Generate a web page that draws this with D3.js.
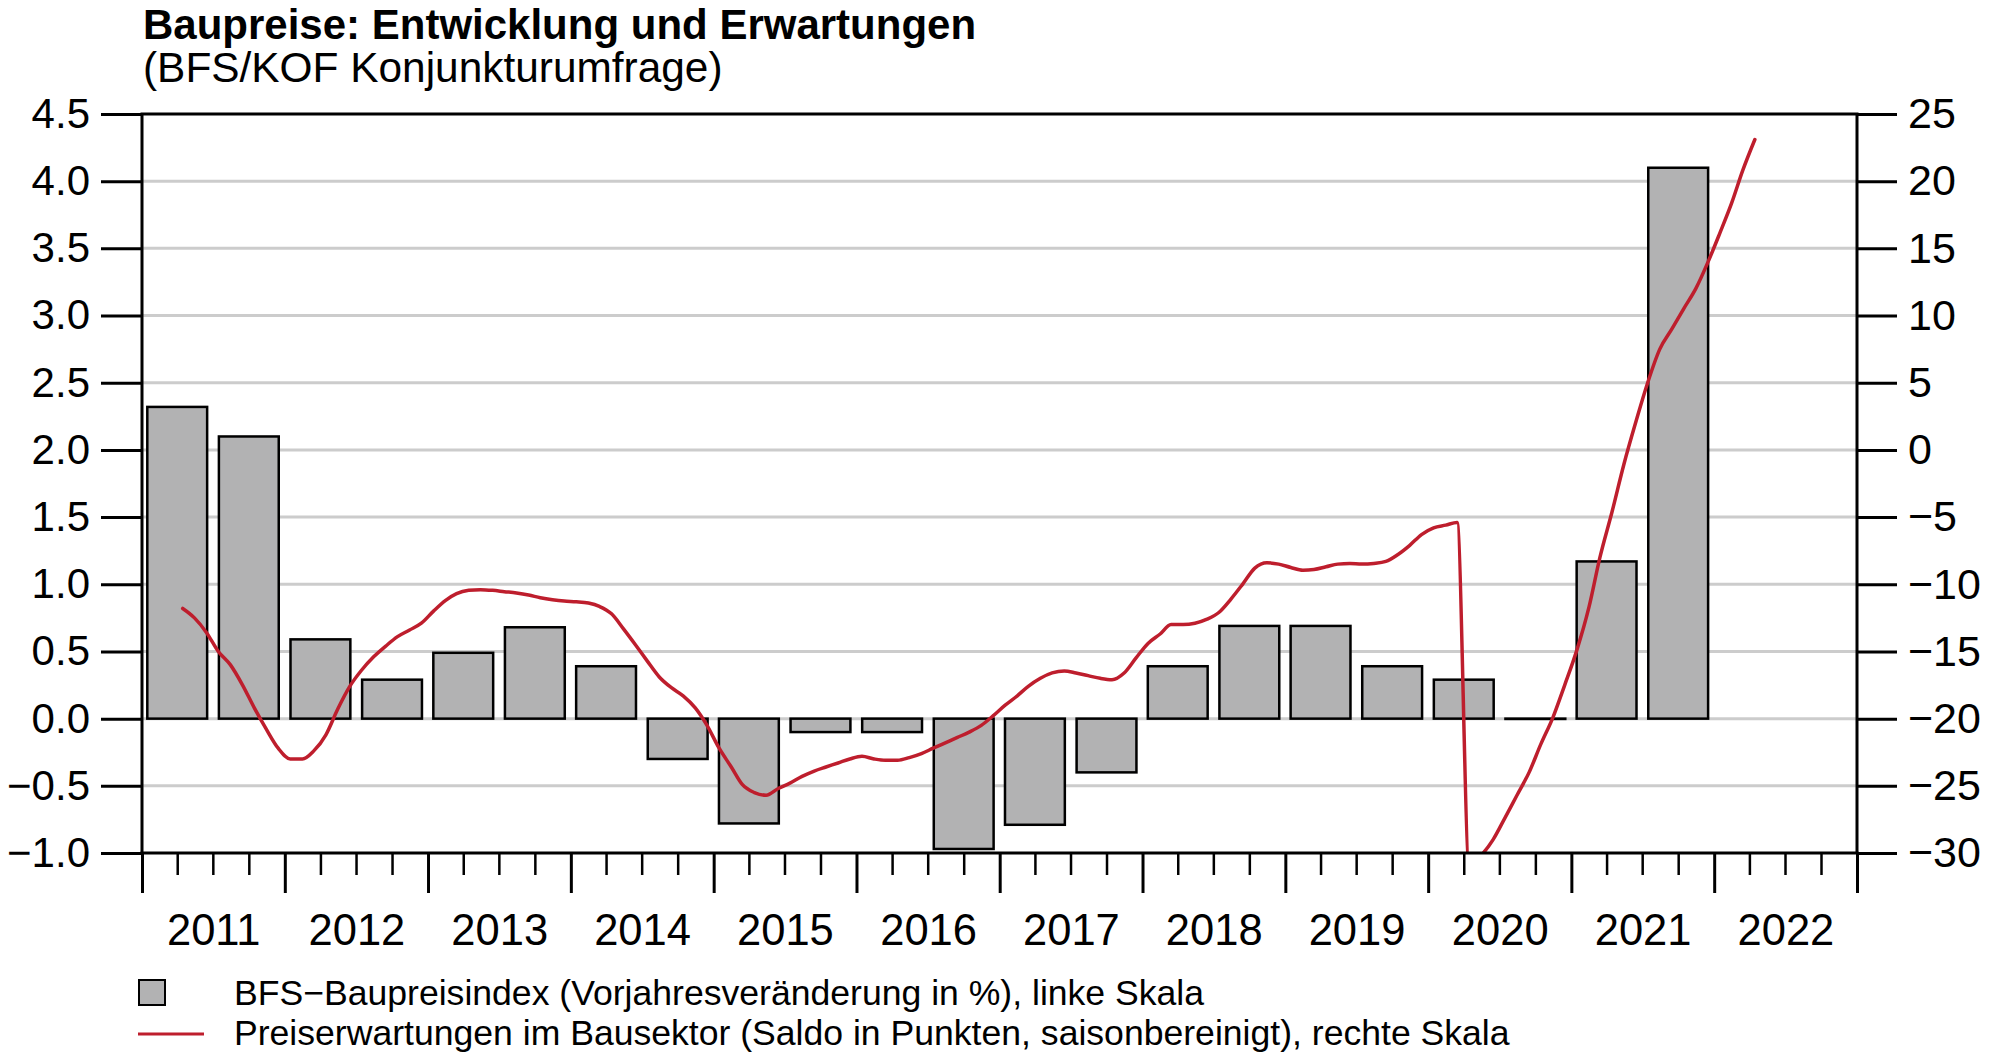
<!DOCTYPE html>
<html>
<head>
<meta charset="utf-8">
<script src="https://cdn.jsdelivr.net/npm/d3@7/dist/d3.min.js"></script>
<style>
  html, body { margin: 0; padding: 0; background: #ffffff; }
  svg { display: block; }
  text { font-family: "Liberation Sans", Arial, Helvetica, sans-serif; fill: #000; }
</style>
</head>
<body>
<svg id="chart" width="2000" height="1060"></svg>
<script>
// ---------- Data ----------
const titleText = "Baupreise: Entwicklung und Erwartungen";
const subtitleText = "(BFS/KOF Konjunkturumfrage)";

// Half-year periods (bars): year and half
const barYears  = [2011,2011,2012,2012,2013,2013,2014,2014,2015,2015,2016,2016,2017,2017,2018,2018,2019,2019,2020,2020,2021,2021];
const barHalves = [1,2,1,2,1,2,1,2,1,2,1,2,1,2,1,2,1,2,1,2,1,2];
const barValues = [2.32, 2.10, 0.59, 0.29, 0.49, 0.68, 0.39, -0.30, -0.78, -0.10, -0.10, -0.97, -0.79, -0.40, 0.39, 0.69, 0.69, 0.39, 0.29, 0.00, 1.17, 4.10];

// Monthly line series, starting April 2011
const lineStartYear = 2011, lineStartMonth = 4;
const lineValues = [
  -11.8,-12.5,-13.6,-15.0,-16.0,-17.5,-19.2,-20.8,-22.2,-23.0,-23.0,-22.4,
  -21.2,-19.3,-17.6,-16.4,-15.4,-14.6,-13.9,-13.4,-12.9,-12.0,-11.2,-10.7,
  -10.45,-10.4,-10.45,-10.55,-10.65,-10.8,-11.0,-11.15,-11.25,-11.3,-11.4,-11.65,
  -12.2,-13.3,-14.5,-15.7,-16.9,-17.7,-18.3,-19.2,-20.5,-22.2,-23.6,-24.9,
  -25.5,-25.7,-25.2,-24.8,-24.3,-23.9,-23.6,-23.3,-23.0,-22.8,-23.0,-23.1,
  -23.1,-22.9,-22.6,-22.2,-21.8,-21.4,-21.0,-20.5,-19.8,-19.0,-18.3,-17.6,
  -17.0,-16.6,-16.45,-16.6,-16.8,-17.0,-17.1,-16.6,-15.5,-14.4,-13.7,-13.0,
  -13.0,-12.9,-12.6,-12.1,-11.1,-9.95,-8.8,-8.4,-8.5,-8.75,-8.95,-8.9,
  -8.7,-8.5,-8.45,-8.5,-8.45,-8.3,-7.8,-7.1,-6.3,-5.8,-5.6,-5.4,
  -31.0,-30.2,-29.0,-27.4,-25.7,-24.0,-21.9,-19.9,-17.5,-14.9,-11.7,-8.0,
  -4.6,-1.1,2.1,5.0,7.5,9.0,10.5,12.0,13.9,16.1,18.4,20.8,
  23.1
];

const leftTicks  = [-1.0,-0.5,0.0,0.5,1.0,1.5,2.0,2.5,3.0,3.5,4.0,4.5];
const rightTicks = [-30,-25,-20,-15,-10,-5,0,5,10,15,20,25];
const yearLabels = [2011,2012,2013,2014,2015,2016,2017,2018,2019,2020,2021,2022];

const legendBars = "BFS\u2212Baupreisindex (Vorjahresveränderung in %), linke Skala";
const legendLine = "Preiserwartungen im Bausektor (Saldo in Punkten, saisonbereinigt), rechte Skala";

// ---------- Layout ----------
const L = 142, R = 1857, T = 114, B = 853;
const svg = d3.select("#chart");

const x = d3.scaleTime()
  .domain([new Date(2011,0,1), new Date(2023,0,1)])
  .range([L, R]);
const yL = d3.scaleLinear().domain([-1, 4.5]).range([B, T]);
const yR = d3.scaleLinear().domain([-30, 25]).range([B, T]);

// Title
svg.append("text").attr("x", 143).attr("y", 39)
  .style("font-size", "42px").style("font-weight", "bold").text(titleText);
svg.append("text").attr("x", 143).attr("y", 82)
  .style("font-size", "42.4px").text(subtitleText);

// Gridlines
svg.append("g").selectAll("line")
  .data(leftTicks.filter(d => d > -1 && d < 4.5))
  .join("line")
  .attr("x1", L).attr("x2", R)
  .attr("y1", d => yL(d)).attr("y2", d => yL(d))
  .attr("stroke", "#cccccc").attr("stroke-width", 3);

// Bars
const barData = barValues.map((v, i) => ({
  center: new Date(barYears[i], barHalves[i] === 1 ? 3 : 9, 1),
  v
}));
const halfStep = x(new Date(2011,6,1)) - x(new Date(2011,0,1));
const barW = halfStep * 0.845;
svg.append("g").selectAll("rect")
  .data(barData)
  .join("rect")
  .attr("x", d => x(d.center) - barW / 2)
  .attr("y", d => Math.min(yL(d.v), yL(0)))
  .attr("width", barW)
  .attr("height", d => Math.max(Math.abs(yL(d.v) - yL(0)), 0.3))
  .attr("fill", "#b2b2b3")
  .attr("stroke", "#000")
  .attr("stroke-width", 2.5);

// Line (clipped to plot area)
svg.append("clipPath").attr("id", "plotclip")
  .append("rect").attr("x", L).attr("y", T).attr("width", R - L).attr("height", B - T);

const lineData = lineValues.map((v, i) => ({
  date: new Date(lineStartYear, lineStartMonth - 1 + i, 15),
  v
}));
const line = d3.line()
  .x(d => x(d.date))
  .y(d => yR(d.v))
  .curve(d3.curveMonotoneX);
svg.append("path")
  .datum(lineData)
  .attr("clip-path", "url(#plotclip)")
  .attr("d", line)
  .attr("fill", "none")
  .attr("stroke", "#be1e2d")
  .attr("stroke-width", 3.5)
  .attr("stroke-linejoin", "round")
  .attr("stroke-linecap", "round");

// Frame
const frame = svg.append("g").attr("stroke", "#000").attr("stroke-width", 3);
frame.append("line").attr("x1", L - 1.5).attr("x2", R + 1.5).attr("y1", T).attr("y2", T);
frame.append("line").attr("x1", L - 1.5).attr("x2", R + 1.5).attr("y1", B).attr("y2", B);
frame.append("line").attr("x1", L).attr("x2", L).attr("y1", T).attr("y2", B);
frame.append("line").attr("x1", R).attr("x2", R).attr("y1", T).attr("y2", B);

// Left axis
const axL = svg.append("g").attr("transform", `translate(${L},0)`)
  .call(d3.axisLeft(yL).tickValues(leftTicks).tickFormat(d3.format(".1f"))
    .tickSize(41).tickSizeOuter(0).tickPadding(11));
axL.select(".domain").remove();
axL.selectAll(".tick line").attr("stroke", "#000").attr("stroke-width", 3);
axL.selectAll(".tick text").style("font-size", "42px").attr("font-family", null);

// Right axis
const axR = svg.append("g").attr("transform", `translate(${R},0)`)
  .call(d3.axisRight(yR).tickValues(rightTicks).tickFormat(d3.format("d"))
    .tickSize(40).tickSizeOuter(0).tickPadding(11));
axR.select(".domain").remove();
axR.selectAll(".tick line").attr("stroke", "#000").attr("stroke-width", 3);
axR.selectAll(".tick text").style("font-size", "43px").attr("font-family", null);

// Bottom axis: minor quarterly ticks
const quarters = d3.timeMonth.every(3).range(new Date(2011,0,1), new Date(2023,0,2))
  .filter(d => d.getMonth() !== 0);
const axMinor = svg.append("g").attr("transform", `translate(0,${B})`)
  .call(d3.axisBottom(x).tickValues(quarters).tickFormat("").tickSize(22).tickSizeOuter(0));
axMinor.select(".domain").remove();
axMinor.selectAll(".tick line").attr("stroke", "#000").attr("stroke-width", 2.5);

// Bottom axis: major yearly ticks
const years = d3.timeYear.range(new Date(2011,0,1), new Date(2023,0,2));
const axMajor = svg.append("g").attr("transform", `translate(0,${B})`)
  .call(d3.axisBottom(x).tickValues(years).tickFormat("").tickSize(40).tickSizeOuter(0));
axMajor.select(".domain").remove();
axMajor.selectAll(".tick line").attr("stroke", "#000").attr("stroke-width", 3);

// Year labels centered within each year
const axYears = svg.append("g").attr("transform", `translate(0,${B})`)
  .call(d3.axisBottom(x).tickValues(yearLabels.map(y => new Date(y, 6, 2)))
    .tickFormat(d3.timeFormat("%Y")).tickSize(0).tickPadding(61));
axYears.select(".domain").remove();
axYears.selectAll(".tick text").style("font-size", "43.5px").attr("font-family", null);

// Legend
const lg = svg.append("g");
lg.append("rect").attr("x", 139).attr("y", 980).attr("width", 26).attr("height", 25)
  .attr("fill", "#b2b2b3").attr("stroke", "#000").attr("stroke-width", 2);
lg.append("text").attr("x", 234).attr("y", 1005).style("font-size", "35.6px").text(legendBars);
lg.append("line").attr("x1", 138).attr("x2", 204).attr("y1", 1034).attr("y2", 1034)
  .attr("stroke", "#be1e2d").attr("stroke-width", 3);
lg.append("text").attr("x", 234).attr("y", 1045).style("font-size", "35.6px").text(legendLine);
</script>
</body>
</html>
